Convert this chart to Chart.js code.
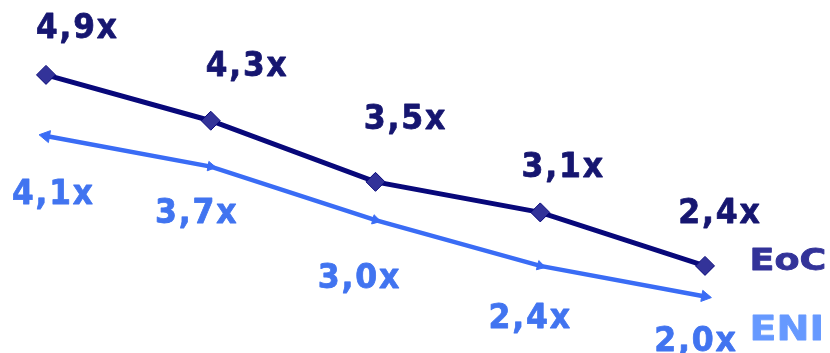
<!DOCTYPE html>
<html>
<head>
<meta charset="utf-8">
<script src="https://cdn.jsdelivr.net/npm/chart.js@4/dist/chart.umd.min.js"></script>
<style>
  html, body { margin: 0; padding: 0; background: #ffffff; }
  #wrap { width: 830px; height: 353px; position: relative; }
</style>
</head>
<body>
<div id="wrap"><canvas id="c"></canvas></div>
<script>
// Multiples over five periods
const periods = ['P1', 'P2', 'P3', 'P4', 'P5'];
const eocValues = [4.9, 4.3, 3.5, 3.1, 2.4];
const eniValues = [4.1, 3.7, 3.0, 2.4, 2.0];
const eocLabels = ['4,9x', '4,3x', '3,5x', '3,1x', '2,4x'];
const eniLabels = ['4,1x', '3,7x', '3,0x', '2,4x', '2,0x'];
const seriesNames = ['EoC', 'ENI'];

const EOC_LINE = '#08087a';
const EOC_MARK = '#333399';
const EOC_TEXT = '#161670';
const EOC_NAME = '#333399';
const ENI_LINE = '#3a6cf5';
const ENI_TEXT = '#4174f0';
const ENI_NAME = '#6699ff';

// label placement relative to each point: left edge offset, baseline offset
const eocLabelPos = [[-9, -37], [-4, -45], [-10, -53], [-17, -35], [-25, -43]];
const eniLabelPos = [[-33, 68], [-54, 56], [-56, 68], [-50, 62], [-49, 55]];

// draws bold text whose ink starts at x and spans the given width
function wideText(ctx, text, x, y, width) {
  const m = ctx.measureText(text);
  const ink = m.actualBoundingBoxLeft + m.actualBoundingBoxRight;
  const sx = width / ink;
  ctx.save();
  ctx.translate(x, y);
  ctx.scale(sx, 1);
  ctx.fillText(text, m.actualBoundingBoxLeft, 0);
  ctx.strokeText(text, m.actualBoundingBoxLeft, 0);
  ctx.restore();
}

const valueLabels = {
  id: 'valueLabels',
  afterDatasetsDraw(chart) {
    const ctx = chart.ctx;
    ctx.save();
    ctx.font = 'bold 34px "DejaVu Sans"';
    ctx.letterSpacing = '2px';
    ctx.textAlign = 'left';
    ctx.textBaseline = 'alphabetic';
    ctx.lineWidth = 0.8;
    ctx.lineJoin = 'round';
    const sets = [
      { idx: 0, texts: eocLabels, pos: eocLabelPos, color: EOC_TEXT },
      { idx: 1, texts: eniLabels, pos: eniLabelPos, color: ENI_TEXT }
    ];
    sets.forEach(s => {
      const meta = chart.getDatasetMeta(s.idx);
      ctx.fillStyle = s.color;
      ctx.strokeStyle = s.color;
      meta.data.forEach((pt, i) => {
        wideText(ctx, s.texts[i], pt.x + s.pos[i][0], pt.y + s.pos[i][1], 80);
      });
    });
    // series names at the right end
    ctx.letterSpacing = '0px';
    const eocLast = chart.getDatasetMeta(0).data[periods.length - 1];
    const eniLast = chart.getDatasetMeta(1).data[periods.length - 1];
    ctx.font = 'bold 30px "DejaVu Sans"';
    ctx.fillStyle = EOC_NAME;
    ctx.strokeStyle = EOC_NAME;
    wideText(ctx, seriesNames[0], eocLast.x + 47, eocLast.y + 4, 73);
    ctx.font = 'bold 34px "DejaVu Sans"';
    ctx.fillStyle = ENI_NAME;
    ctx.strokeStyle = ENI_NAME;
    wideText(ctx, seriesNames[1], eniLast.x + 48, eniLast.y + 44, 68);
    ctx.restore();
  }
};

new Chart(document.getElementById('c'), {
  type: 'line',
  data: {
    labels: periods,
    datasets: [
      {
        label: seriesNames[0],
        data: eocValues,
        borderColor: EOC_LINE,
        borderWidth: 5,
        pointStyle: 'rectRot',
        pointRadius: 9.5,
        pointBackgroundColor: EOC_MARK,
        pointBorderColor: EOC_LINE,
        pointBorderWidth: 1,
        tension: 0
      },
      {
        label: seriesNames[1],
        data: eniValues,
        borderColor: ENI_LINE,
        borderWidth: 4.5,
        pointStyle: 'triangle',
        pointRadius: [7, 5.5, 5.5, 5.5, 6.5],
        pointRotation: [-80, 100, 105, 105, 100],
        pointBackgroundColor: ENI_LINE,
        pointBorderColor: ENI_LINE,
        pointBorderWidth: 1,
        tension: 0
      }
    ]
  },
  options: {
    responsive: true,
    maintainAspectRatio: false,
    animation: false,
    layout: { autoPadding: false, padding: { left: 46, right: 125, top: 0, bottom: 0 } },
    plugins: { legend: { display: false }, tooltip: { enabled: false } },
    scales: {
      x: { display: false, offset: false },
      y: { display: false, min: 1.26, max: 5.88 }
    }
  },
  plugins: [valueLabels]
});
</script>
</body>
</html>
